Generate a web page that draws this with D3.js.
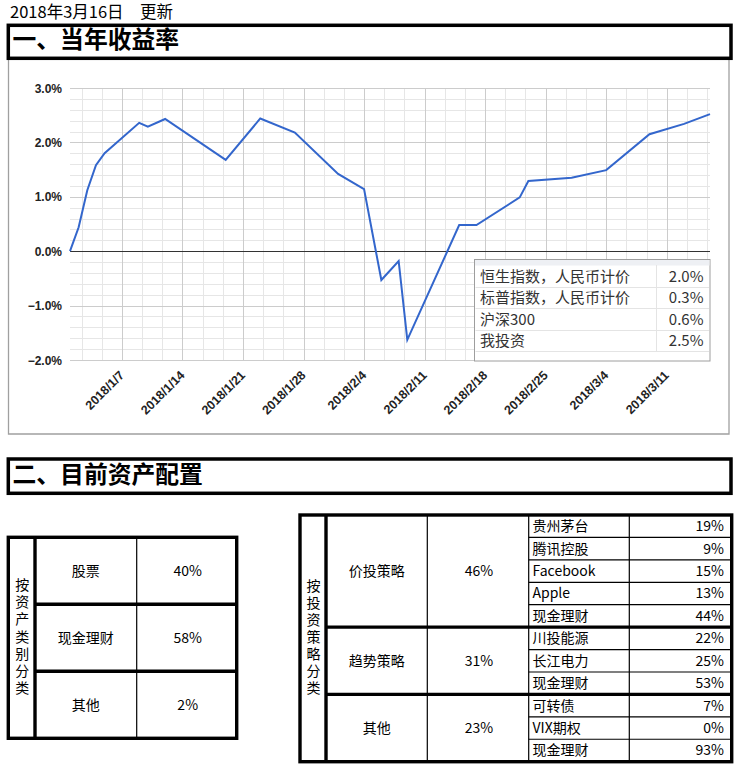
<!DOCTYPE html>
<html>
<head>
<meta charset="utf-8">
<script src="https://cdn.jsdelivr.net/npm/d3@7"></script>
<style>
  body { margin: 0; background: #fff; }
  svg { display: block; }
</style>
</head>
<body>
<div id="chart"><svg width="737" height="768"></svg></div>
<script>
// Data
let dates = ["2018-01-01", "2018-01-02", "2018-01-03", "2018-01-04", "2018-01-05",
  "2018-01-09", "2018-01-10", "2018-01-12", "2018-01-19", "2018-01-23", "2018-01-27",
  "2018-02-01", "2018-02-04", "2018-02-06", "2018-02-08", "2018-02-09", "2018-02-15",
  "2018-02-17", "2018-02-22", "2018-02-23", "2018-02-28", "2018-03-04", "2018-03-09",
  "2018-03-13", "2018-03-16"];
let returns = [0.00, 0.44, 1.12, 1.58, 1.80, 2.36, 2.29, 2.43, 1.68, 2.44, 2.18,
  1.42, 1.14, -0.53, -0.18, -1.63, 0.48, 0.48, 0.99, 1.29, 1.35, 1.49, 2.15,
  2.34, 2.52];
let yTicks = [-2, -1, 0, 1, 2, 3];

let legendNames = ["恒生指数，人民币计价", "标普指数，人民币计价", "沪深300", "我投资"];
let legendValues = ["2.0%", "0.3%", "0.6%", "2.5%"];

let assetNames = ["股票", "现金理财", "其他"];
let assetShares = ["40%", "58%", "2%"];

let strategyNames = ["价投策略", "趋势策略", "其他"];
let strategyShares = ["46%", "31%", "23%"];
let holdingNames = [
  ["贵州茅台", "腾讯控股", "Facebook", "Apple", "现金理财"],
  ["川投能源", "长江电力", "现金理财"],
  ["可转债", "VIX期权", "现金理财"]
];
let holdingShares = [
  ["19%", "9%", "15%", "13%", "44%"],
  ["22%", "25%", "53%"],
  ["7%", "0%", "93%"]
];

let colors = {
  line: "#3366cc",
  gridMajor: "#cccccc",
  gridMinor: "#e6e6e6",
  panel: "#a0a0a0",
  axisText: "#222222",
  legendText: "#333333",
  legendLine: "#e4e4e4"
};
let cjk = "'Noto Sans CJK SC', 'Noto Sans', sans-serif";
let arial = "'Liberation Sans', Arial, sans-serif";

let svg = d3.select("div#chart svg");
let parse = d3.timeParse("%Y-%m-%d");
let series = dates.map((d, i) => ({ date: parse(d), value: returns[i] }));

// Update date
svg.append("text")
  .attr("x", 10)
  .attr("y", 17.5)
  .text("2018年3月16日　更新")
  .style("font-family", cjk)
  .style("font-size", "16.5px")
  .style("fill", "#000");

// Section heading boxes
function heading(top, bottom, label) {
  svg.append("rect")
    .attr("x", 8.3)
    .attr("y", top)
    .attr("width", 731 - 8.3)
    .attr("height", bottom - top)
    .attr("fill", "none")
    .attr("stroke", "#000")
    .attr("stroke-width", 3.5);
  svg.append("text")
    .attr("x", 12.5)
    .attr("y", bottom - 10)
    .text(label)
    .style("font-family", cjk)
    .style("font-size", "23.8px")
    .style("font-weight", "bold")
    .style("fill", "#000");
}

// Chart panel (gray frame under the first heading)
svg.append("path")
  .attr("d", "M8.5,60 V434 H729 V60")
  .attr("fill", "none")
  .attr("stroke", colors.panel)
  .attr("stroke-width", 1.3);

heading(25.3, 58.3, "一、当年收益率");

// Line chart
let plot = { left: 70, right: 710, top: 88, bottom: 360 };
let x = d3.scaleTime()
  .domain([parse("2018-01-01"), parse("2018-03-16")])
  .range([plot.left, plot.right]);
let y = d3.scaleLinear()
  .domain([-2, 3])
  .range([plot.bottom, plot.top]);

let g = svg.append("g").attr("class", "plot");

// horizontal grid
let yMinor = d3.range(-2, 3.001, 0.2).filter(v => Math.abs(v - Math.round(v)) > 0.01);
g.append("g").selectAll("line")
  .data(yMinor).enter().append("line")
  .attr("x1", plot.left).attr("x2", plot.right)
  .attr("y1", d => Math.round(y(d)) + 0.5).attr("y2", d => Math.round(y(d)) + 0.5)
  .attr("stroke", colors.gridMinor);

// vertical grid: major on each Sunday, minor every third of a week
let weeks = d3.timeSunday.range(x.domain()[0], x.domain()[1]);
let dayMs = 864e5;
let xMinor = [];
weeks.forEach(w => {
  [-7 / 3, -14 / 3, 7 / 3, 14 / 3].forEach(k => {
    let t = new Date(+w + k * dayMs);
    if (t >= x.domain()[0] && t <= x.domain()[1]) xMinor.push(t);
  });
});
g.append("g").selectAll("line")
  .data(xMinor).enter().append("line")
  .attr("x1", d => Math.round(x(d)) + 0.5).attr("x2", d => Math.round(x(d)) + 0.5)
  .attr("y1", plot.top).attr("y2", plot.bottom)
  .attr("stroke", colors.gridMinor);

g.append("g").selectAll("line")
  .data(weeks).enter().append("line")
  .attr("x1", d => Math.round(x(d)) + 0.5).attr("x2", d => Math.round(x(d)) + 0.5)
  .attr("y1", plot.top).attr("y2", plot.bottom)
  .attr("stroke", colors.gridMajor);

g.append("g").selectAll("line")
  .data(yTicks.filter(v => v !== 0)).enter().append("line")
  .attr("x1", plot.left).attr("x2", plot.right)
  .attr("y1", d => Math.round(y(d)) + 0.5).attr("y2", d => Math.round(y(d)) + 0.5)
  .attr("stroke", colors.gridMajor);

// zero line
g.append("line")
  .attr("x1", plot.left).attr("x2", plot.right)
  .attr("y1", Math.round(y(0)) + 0.5).attr("y2", Math.round(y(0)) + 0.5)
  .attr("stroke", "#333");

// y tick labels
g.append("g").selectAll("text")
  .data(yTicks).enter().append("text")
  .attr("x", 62)
  .attr("y", d => y(d) + 4.5)
  .attr("text-anchor", "end")
  .text(d => d3.format(".1f")(d) + "%")
  .style("font-family", arial)
  .style("font-size", "12px")
  .style("font-weight", "bold")
  .style("fill", colors.axisText);

// x tick labels
let fmt = d3.timeFormat("%Y/%-m/%-d");
g.append("g").selectAll("text")
  .data(weeks).enter().append("text")
  .attr("transform", d => "translate(" + (x(d) + 3) + ",376) rotate(-45)")
  .attr("text-anchor", "end")
  .text(d => fmt(d))
  .style("font-family", arial)
  .style("font-size", "12.5px")
  .style("font-weight", "bold")
  .style("fill", colors.axisText);

// the line
g.append("path")
  .datum(series)
  .attr("d", d3.line().x(d => x(d.date)).y(d => y(d.value)))
  .attr("fill", "none")
  .attr("stroke", colors.line)
  .attr("stroke-width", 2);

// Legend table inside the chart
let lg = { x: 474.5, y: 259.5, w: 235.5, h: 101.5, head: 5.5, col: 656 };
let legendRow = d3.scaleBand()
  .domain(d3.range(legendNames.length))
  .range([lg.y + lg.head, lg.y + lg.head + 21.6 * legendNames.length]);
let legend = svg.append("g").attr("class", "legend");
legend.append("rect")
  .attr("x", lg.x).attr("y", lg.y)
  .attr("width", lg.w).attr("height", lg.h)
  .attr("fill", "#fff")
  .attr("stroke", "#9e9e9e");
legend.append("rect")
  .attr("x", lg.x + 0.5).attr("y", lg.y + 0.5)
  .attr("width", lg.w - 1).attr("height", lg.head)
  .attr("fill", "#eef0f4");
legend.selectAll("line.row")
  .data(d3.range(legendNames.length)).enter().append("line")
  .attr("class", "row")
  .attr("x1", lg.x + 1).attr("x2", lg.x + lg.w - 1)
  .attr("y1", i => Math.round(legendRow(i) + legendRow.bandwidth()) + 0.5)
  .attr("y2", i => Math.round(legendRow(i) + legendRow.bandwidth()) + 0.5)
  .attr("stroke", colors.legendLine);
legend.append("line")
  .attr("x1", lg.col + 0.5).attr("x2", lg.col + 0.5)
  .attr("y1", lg.y + lg.head).attr("y2", legendRow(legendNames.length - 1) + legendRow.bandwidth())
  .attr("stroke", colors.legendLine);
legend.selectAll("text.name")
  .data(legendNames).enter().append("text")
  .attr("class", "name")
  .attr("x", 480)
  .attr("y", (d, i) => legendRow(i) + 16.5)
  .text(d => d)
  .style("font-family", cjk)
  .style("font-size", "15px")
  .style("fill", colors.legendText);
legend.selectAll("text.value")
  .data(legendValues).enter().append("text")
  .attr("class", "value")
  .attr("x", 703.5)
  .attr("y", (d, i) => legendRow(i) + 16.5)
  .attr("text-anchor", "end")
  .text(d => d)
  .style("font-family", cjk)
  .style("font-size", "15px")
  .style("fill", colors.legendText);

// Second section
heading(459, 493.3, "二、目前资产配置");

function cellText(parent, tx, ty, label, anchor) {
  parent.append("text")
    .attr("x", tx)
    .attr("y", ty)
    .attr("dy", "0.35em")
    .attr("text-anchor", anchor || "middle")
    .text(label)
    .style("font-family", cjk)
    .style("font-size", "14px")
    .style("fill", "#000");
}

// stacked (vertical) cell label, written top to bottom as one text
function verticalText(parent, cx, cy, label) {
  parent.append("text")
    .attr("x", cx)
    .attr("y", cy)
    .attr("text-anchor", "middle")
    .style("writing-mode", "vertical-rl")
    .style("letter-spacing", "3.1px")
    .style("font-family", cjk)
    .style("font-size", "14px")
    .style("fill", "#000")
    .text(label);
}

function line(parent, x1, y1, x2, y2, w) {
  parent.append("line")
    .attr("x1", x1).attr("y1", y1).attr("x2", x2).attr("y2", y2)
    .attr("stroke", "#000")
    .attr("stroke-width", w);
}

// Left table: by asset class
let lt = { left: 8.3, right: 236.7, top: 537.3, bottom: 738.3, c1: 35, c2: 136.7 };
let ltRow = d3.scaleBand().domain(d3.range(assetNames.length)).range([lt.top, lt.bottom]);
let left = svg.append("g").attr("class", "table-left");
line(left, lt.c2, lt.top, lt.c2, lt.bottom, 1.2);
d3.range(1, assetNames.length).forEach(i => line(left, lt.c1, ltRow(i), lt.right, ltRow(i), 3.4));
line(left, lt.c1, lt.top, lt.c1, lt.bottom, 3.4);
left.append("rect")
  .attr("x", lt.left).attr("y", lt.top)
  .attr("width", lt.right - lt.left).attr("height", lt.bottom - lt.top)
  .attr("fill", "none").attr("stroke", "#000").attr("stroke-width", 3.4);
assetNames.forEach((n, i) => {
  let cy = ltRow(i) + ltRow.bandwidth() / 2;
  cellText(left, (lt.c1 + lt.c2) / 2, cy, n);
  cellText(left, (lt.c2 + lt.right) / 2 + 1, cy, assetShares[i]);
});
verticalText(left, (lt.left + lt.c1) / 2 + 0.5, (lt.top + lt.bottom) / 2, "按资产类别分类");

// Right table: by strategy
let rt = { left: 300, right: 731.7, top: 515, bottom: 761.7, c1: 326, c2: 427.3, c3: 528.7, c4: 629.3 };
let nRows = d3.sum(holdingNames, h => h.length);
let rtRow = d3.scaleLinear().domain([0, nRows]).range([rt.top, rt.bottom]);
let right = svg.append("g").attr("class", "table-right");
let start = 0;
let groupStarts = [];
holdingNames.forEach((h, gi) => {
  groupStarts.push(start);
  h.forEach((n, j) => {
    let r = start + j;
    if (j > 0) line(right, rt.c3, rtRow(r), rt.right, rtRow(r), 1.2);
    let cy = (rtRow(r) + rtRow(r + 1)) / 2;
    cellText(right, 532.5, cy, n, "start");
    cellText(right, 724, cy, holdingShares[gi][j], "end");
  });
  let gy = (rtRow(start) + rtRow(start + h.length)) / 2;
  cellText(right, (rt.c1 + rt.c2) / 2, gy, strategyNames[gi]);
  cellText(right, (rt.c2 + rt.c3) / 2 + 1, gy, strategyShares[gi]);
  start += h.length;
});
[rt.c2, rt.c3, rt.c4].forEach(cx => line(right, cx, rt.top, cx, rt.bottom, 1.2));
groupStarts.slice(1).forEach(r => line(right, rt.c1, rtRow(r), rt.right, rtRow(r), 3.4));
line(right, rt.c1, rt.top, rt.c1, rt.bottom, 3.4);
right.append("rect")
  .attr("x", rt.left).attr("y", rt.top)
  .attr("width", rt.right - rt.left).attr("height", rt.bottom - rt.top)
  .attr("fill", "none").attr("stroke", "#000").attr("stroke-width", 3.4);
verticalText(right, (rt.left + rt.c1) / 2 + 0.5, (rt.top + rt.bottom) / 2, "按投资策略分类");
</script>
</body>
</html>
